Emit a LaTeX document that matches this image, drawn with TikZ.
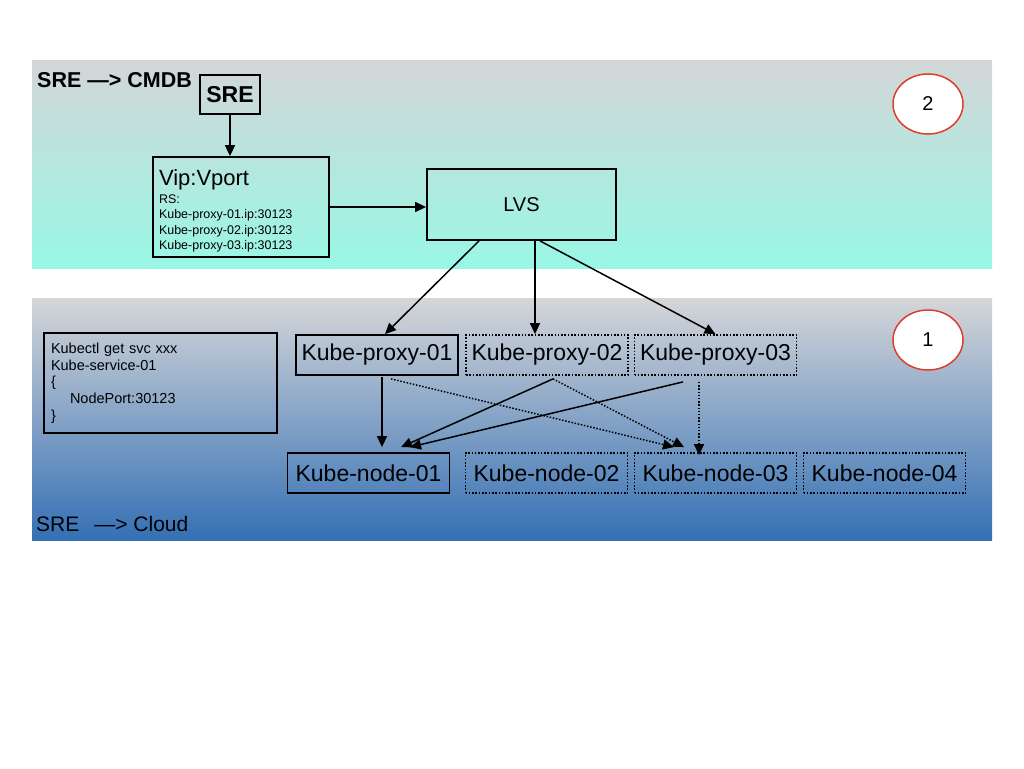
\documentclass[tikz,border=0pt]{standalone}
\usepackage{fontspec}
\setmainfont{Liberation Sans}
\usepackage{tikz}
\usetikzlibrary{shapes.geometric, arrows.meta, positioning, calc}
\definecolor{cmdbTop}{HTML}{D3D6D7}
\definecolor{cmdbBottom}{HTML}{99F7E6}
\definecolor{cloudTop}{HTML}{D5D6D9}
\definecolor{cloudBottom}{HTML}{3470B4}
\definecolor{badgeRed}{HTML}{DC3F2B}

\begin{document}
\begin{tikzpicture}[x=1pt, y=-1pt,
  box/.style={
    draw, line width=1.8pt, inner sep=0pt,
    minimum width=162pt, minimum height=40pt, font=\fontsize{23}{27}\selectfont
  },
  ghost/.style={box, dash pattern=on 1.6pt off 1.7pt},
  arrow/.style={-{Triangle[length=11pt,width=10pt]}, line width=1.5pt},
  dotarrow/.style={arrow, dash pattern=on 1.5pt off 1.7pt},
  badge/.style={
    ellipse, draw=badgeRed, fill=white, line width=1.5pt, inner sep=0pt,
    minimum width=70pt, minimum height=60pt, font=\fontsize{20}{24}\selectfont
  }
]
  \useasboundingbox (0,0) rectangle (1024,768);
  \shade[top color=cmdbTop, bottom color=cmdbBottom] (32,60) rectangle (992,268);
  \shade[top color=cloudTop, bottom color=cloudBottom] (32,298) rectangle (992,540);

  \node[anchor=base west, inner sep=0pt, font=\bfseries\fontsize{21.5}{25}\selectfont] (cmdb) at (37,87) {SRE —> CMDB};
  \node[box, minimum width=60pt, minimum height=39pt, font=\bfseries\fontsize{23}{27}\selectfont] (sre) at (230,94.5) {SRE};
  \node[box, minimum height=100pt, text width=164pt, inner xsep=6pt, align=left,
    font=\fontsize{12.5}{15.6}\selectfont] (vip) at (241,207)
    {\rule{0pt}{24pt}{\fontsize{22}{26}\selectfont Vip:Vport}\\[2pt] RS:\\ Kube-proxy-01.ip:30123\\ Kube-proxy-02.ip:30123\\ Kube-proxy-03.ip:30123};
  \node[box, minimum width=189pt, minimum height=71pt, font=\fontsize{20}{24}\selectfont] (lvs) at (521.5,204.5) {LVS};
  \node[badge] (two) at (928,104) {2};

  \node[box, line width=1.5pt, minimum height=100pt, text width=219pt, inner xsep=7pt, align=left,
    font=\fontsize{14.5}{16.7}\selectfont] (svc) at (160.5,383)
    {Kubectl get svc xxx\\ Kube-service-01\\ \{\\ \hspace*{19pt}NodePort:30123\\ \}};
  \node[box] (px1) at (377,355) {Kube-proxy-01};
  \node[ghost] (px2) at (547,355) {Kube-proxy-02};
  \node[ghost] (px3) at (715.5,355) {Kube-proxy-03};
  \node[box] (nd1) at (368.5,473) {Kube-node-01};
  \node[ghost] (nd2) at (546.5,473) {Kube-node-02};
  \node[ghost] (nd3) at (715.5,473) {Kube-node-03};
  \node[ghost] (nd4) at (884.5,473) {Kube-node-04};
  \node[badge] (one) at (928,340) {1};
  \node[anchor=base west, inner sep=0pt, font=\fontsize{21}{25}\selectfont] (cloud) at (36,531) {SRE\hspace{15pt}—> Cloud};

  \draw[arrow] (sre.south) -- (sre.south |- vip.north);
  \draw[arrow] (vip.east) -- (vip.east -| lvs.west);
  \draw[arrow] ([shift={(-42.5,0)}]lvs.south) -- ([shift={(8,0)}]px1.north);
  \draw[arrow] ([shift={(13.5,0)}]lvs.south) -- ([shift={(-12,0)}]px2.north);
  \draw[arrow] ([shift={(18.5,0)}]lvs.south) -- (px3.north);
  \draw[arrow] ([shift={(5,1)}]px1.south) -- ([shift={(13.5,-5)}]nd1.north);
  \draw[dotarrow] ([shift={(14,3)}]px1.south) -- ([shift={(-41.5,-5)}]nd3.north);
  \draw[arrow] ([shift={(6,3)}]px2.south) -- ([shift={(32.5,-5)}]nd1.north);
  \draw[dotarrow] ([shift={(6,3)}]px2.south) -- ([shift={(-31.5,-5)}]nd3.north);
  \draw[arrow] ([shift={(-32.5,6)}]px3.south) -- ([shift={(41.5,-5)}]nd1.north);
  \draw[dotarrow] ([shift={(-16.5,6)}]px3.south) -- ([shift={(-16.5,3)}]nd3.north);
\end{tikzpicture}
\end{document}
